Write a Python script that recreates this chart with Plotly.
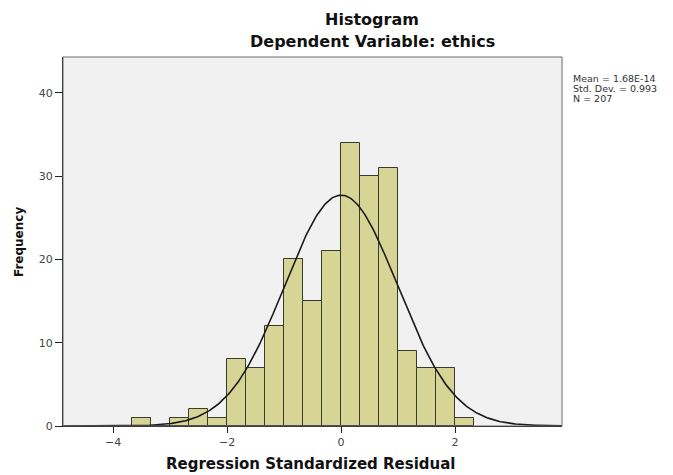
import numpy as np
import plotly.graph_objects as go

# ---- data ----
bin_lower = [-3.667, -3.333, -3.000, -2.667, -2.333, -2.000, -1.667, -1.333, -1.000,
             -0.667, -0.333, 0.000, 0.333, 0.667, 1.000, 1.333, 1.667, 2.000]
counts = [1, 0, 1, 2, 1, 8, 7, 12, 20, 15, 21, 34, 30, 31, 9, 7, 7, 1]
bin_width = 1 / 3
mean = 1.68e-14
std_dev = 0.993
n_obs = 207
x_ticks = [-4, -2, 0, 2]
y_ticks = [0, 10, 20, 30, 40]
stats_lines = ["Mean = 1.68E-14", "Std. Dev. = 0.993", "N = 207"]

x_range = [-4.88, 3.877]
y_range = [0, 44.3]

centers = [b + bin_width / 2 for b in bin_lower]

fig = go.Figure()
fig.add_trace(go.Bar(
    x=centers, y=counts, width=bin_width,
    marker=dict(color="#d6d596", line=dict(color="#3a3a2c", width=1)),
    showlegend=False, hoverinfo="x+y",
))

xc = np.linspace(x_range[0], x_range[1], 400)
yc = n_obs * bin_width * np.exp(-0.5 * ((xc - mean) / std_dev) ** 2) / (std_dev * np.sqrt(2 * np.pi))
fig.add_trace(go.Scatter(x=xc, y=yc, mode="lines",
                         line=dict(color="#1a1a1a", width=1.6), showlegend=False))

# page body has an 8px margin, so the figure is drawn 8px in from the top-left
OFF = 8
W, H = 673 - OFF, 475 - OFF
# target plot box in window pixels: left 63, right 562, top 57, bottom 426
L, R, T, B = 63 - OFF, 673 - 562, 57 - OFF, 475 - 426
pw, ph = W - L - R, H - T - B


def px(xp):  # window pixel -> paper x
    return (xp - OFF - L) / pw


def py(yp):  # window pixel -> paper y
    return (H - B - (yp - OFF)) / ph


annotations = [
    dict(text="<b>Histogram</b>", x=px(372), y=py(19), xref="paper", yref="paper",
         showarrow=False, xanchor="center", yanchor="middle", borderpad=0,
         font=dict(family="DejaVu Sans", size=16, color="#111")),
    dict(text="<b>Dependent Variable: ethics</b>", x=px(372), y=py(41), xref="paper", yref="paper",
         showarrow=False, xanchor="center", yanchor="middle", borderpad=0,
         font=dict(family="DejaVu Sans", size=16, color="#111")),
    dict(text="<b>Regression Standardized Residual</b>", x=px(310), y=py(464), xref="paper", yref="paper",
         showarrow=False, xanchor="center", yanchor="middle",
         font=dict(family="DejaVu Sans", size=15, color="#111")),
    dict(text="<b>Frequency</b>", x=px(19), y=py(242), xref="paper", yref="paper",
         showarrow=False, xanchor="center", yanchor="middle", textangle=-90,
         font=dict(family="DejaVu Sans", size=12, color="#111")),
]
for i, s in enumerate(stats_lines):
    annotations.append(dict(text=s, x=px(572), y=py(78 + 10 * i), xref="paper", yref="paper",
                            showarrow=False, xanchor="left", yanchor="middle", borderpad=0,
                            font=dict(family="DejaVu Sans", size=9.5, color="#333")))

fig.update_layout(
    width=W, height=H,
    margin=dict(l=L, r=R, t=T, b=B, pad=0),
    paper_bgcolor="white", plot_bgcolor="#f1f1f1",
    bargap=0,
    annotations=annotations,
    shapes=[dict(type="rect", xref="paper", yref="paper", x0=0, y0=0, x1=1, y1=1,
                 line=dict(color="#6a6a6a", width=1), layer="above")],
    xaxis=dict(range=x_range, tickvals=x_ticks, ticks="outside", ticklen=6, tickcolor="#222",
               showgrid=False, zeroline=False, showline=True, linecolor="#111", linewidth=1,
               tickfont=dict(family="DejaVu Sans", size=11, color="#444")),
    yaxis=dict(range=y_range, tickvals=y_ticks, ticks="outside", ticklen=7, tickcolor="#222",
               showgrid=False, zeroline=False, showline=True, linecolor="#111", linewidth=1,
               tickfont=dict(family="DejaVu Sans", size=11, color="#444")),
)

fig.write_html("out.html")
